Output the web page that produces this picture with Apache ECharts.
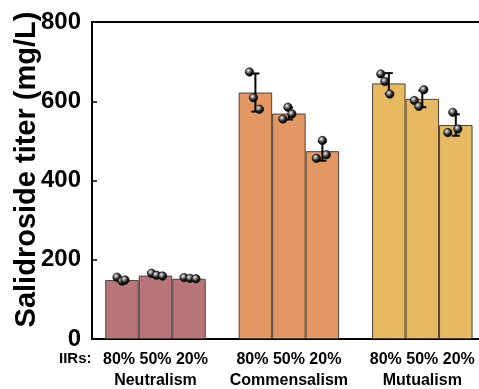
<!DOCTYPE html>
<html>
<head>
<meta charset="utf-8">
<script src="https://cdn.jsdelivr.net/npm/echarts@6/dist/echarts.min.js"></script>
<style>
  html, body { margin: 0; padding: 0; background: #fff; }
  #chart { width: 479px; height: 389px; }
</style>
</head>
<body>
<div id="chart"></div>
<script>
// Interaction groups and IIR levels
const categories = ['Neutralism', 'Commensalism', 'Mutualism'];
const iirLevels = ['80%', '50%', '20%'];

// Mean salidroside titer (mg/L) per group, one array per IIR level
const titer80 = [149, 622, 645];
const titer50 = [160, 569, 606];
const titer20 = [152, 474, 540];

// Standard deviations
const sd80 = [5, 48, 26];
const sd50 = [3, 15, 21];
const sd20 = [2, 24, 27];

// Individual replicate measurements
const reps80 = [[156, 146, 149], [674, 609, 580], [669, 650, 618]];
const reps50 = [[166, 161, 159], [585, 555, 568], [629, 602, 587]];
const reps20 = [[155, 153, 152], [501, 456, 465], [572, 521, 530]];

// Y axis ticks
const yTicks = [0, 200, 400, 600, 800];

// ---- styling ----
const FONT = "'Liberation Sans', Arial, Helvetica, sans-serif";
const groupColors = ['#b97579', '#e39763', '#e7ba62'];
const BAR_W = 33.5;
// horizontal jitter (px) of the replicate dots, per group / level / replicate
const DOT_SHIFT = [
  [[-5, 0, 3], [-4, 1, 7], [-5, 1, 7]],
  [[-6, -2, 4], [-1, -6, 3], [0, -6, 4]],
  [[-8, -4, 1], [1.5, -8, -3.5], [-3, -8, 2]]
];

const levelMeans = [titer80, titer50, titer20];
const levelSd = [sd80, sd50, sd20];
const levelReps = [reps80, reps50, reps20];

// rows for the error bar / replicate overlay: [group, level, mean, sd, r1, r2, r3]
const overlayRows = [];
for (let l = 0; l < iirLevels.length; l++) {
  for (let c = 0; c < categories.length; c++) {
    overlayRows.push([c, l, levelMeans[l][c], levelSd[l][c]].concat(levelReps[l][c]));
  }
}

const dotFill = {
  type: 'radial', x: 0.38, y: 0.35, r: 0.7,
  colorStops: [
    { offset: 0, color: '#ffffff' },
    { offset: 0.22, color: '#9a9a9a' },
    { offset: 0.6, color: '#1a1a1a' },
    { offset: 1, color: '#000000' }
  ]
};

function renderOverlay(params, api) {
  const c = api.value(0), l = api.value(1);
  const mean = api.value(2), sd = api.value(3);
  const cx = api.coord([c, 0])[0] + (l - 1) * BAR_W;
  const yTop = api.coord([c, mean + sd])[1];
  const yBot = api.coord([c, mean - sd])[1];
  const cap = 4;
  const lineStyle = { stroke: '#000', lineWidth: 2 };
  const children = [
    { type: 'line', shape: { x1: cx, y1: yTop, x2: cx, y2: yBot }, style: lineStyle },
    { type: 'line', shape: { x1: cx - cap, y1: yTop, x2: cx + cap, y2: yTop }, style: lineStyle },
    { type: 'line', shape: { x1: cx - cap, y1: yBot, x2: cx + cap, y2: yBot }, style: lineStyle }
  ];
  for (let k = 0; k < 3; k++) {
    const y = api.coord([c, api.value(4 + k)])[1];
    children.push({
      type: 'circle',
      shape: { cx: cx + DOT_SHIFT[c][l][k], cy: y, r: 4.2 },
      style: { fill: dotFill, stroke: '#000', lineWidth: 0.6 }
    });
  }
  return { type: 'group', children: children };
}

function barSeries(l) {
  return {
    type: 'bar',
    name: iirLevels[l],
    xAxisIndex: 0,
    yAxisIndex: 0,
    barWidth: BAR_W,
    barGap: '0%',
    data: levelMeans[l].map((v, c) => ({
      value: v,
      itemStyle: { color: groupColors[c], borderColor: '#4f403a', borderWidth: 1 }
    })),
    silent: true,
    z: 2
  };
}

const chart = echarts.init(document.getElementById('chart'), null, { renderer: 'canvas' });

chart.setOption({
  animation: false,
  backgroundColor: '#fff',
  textStyle: { fontFamily: FONT },
  grid: [
    // bars
    { left: 88.8, top: 22, bottom: 50, width: 400.2, containLabel: false, outerBoundsMode: 'none' },
    // frame and value axis
    { left: 92, top: 22, bottom: 50, right: -40, containLabel: false, outerBoundsMode: 'none' }
  ],
  xAxis: [
    {
      type: 'category',
      gridIndex: 0,
      data: categories,
      axisLine: { show: false },
      axisTick: { show: false },
      axisLabel: {
        margin: 10,
        interval: 0,
        formatter: (name) => '{p|' + iirLevels.join(' ') + '}\n{g|' + name + '}',
        rich: {
          p: { fontFamily: FONT, fontWeight: 'bold', fontSize: 16, lineHeight: 21, color: '#000' },
          g: { fontFamily: FONT, fontWeight: 'bold', fontSize: 16, lineHeight: 21, color: '#000' }
        }
      }
    },
    {
      type: 'value',
      gridIndex: 1,
      position: 'bottom',
      min: 0, max: 1,
      axisLine: { show: true, lineStyle: { color: '#000', width: 2 } },
      axisTick: { show: false },
      axisLabel: { show: false },
      splitLine: { show: false }
    },
    {
      type: 'value',
      gridIndex: 1,
      position: 'top',
      min: 0, max: 1,
      axisLine: { show: true, lineStyle: { color: '#000', width: 2 } },
      axisTick: { show: false },
      axisLabel: { show: false },
      splitLine: { show: false }
    }
  ],
  yAxis: [
    {
      type: 'value',
      gridIndex: 0,
      min: yTicks[0], max: yTicks[yTicks.length - 1], interval: 200,
      show: false
    },
    {
      type: 'value',
      gridIndex: 1,
      min: yTicks[0], max: yTicks[yTicks.length - 1], interval: 200,
      name: 'Salidroside titer (mg/L)',
      nameLocation: 'middle',
      nameGap: 51,
      nameMoveOverlap: false,
      nameTextStyle: {
        fontFamily: FONT, fontWeight: 'bold', fontSize: 29, color: '#000',
        padding: [0, 0, 0, 22]
      },
      axisLine: { show: true, lineStyle: { color: '#000', width: 2 } },
      axisTick: { show: true, inside: true, length: 5, lineStyle: { color: '#000', width: 1.5 } },
      axisLabel: { margin: 11, fontFamily: FONT, fontWeight: 'bold', fontSize: 24, color: '#000' },
      splitLine: { show: false }
    }
  ],
  graphic: [
    {
      type: 'text',
      left: 59,
      top: 351,
      style: { text: 'IIRs:', font: 'bold 15px ' + FONT, fill: '#000' }
    }
  ],
  series: [
    barSeries(0),
    barSeries(1),
    barSeries(2),
    {
      type: 'custom',
      xAxisIndex: 0,
      yAxisIndex: 0,
      renderItem: renderOverlay,
      data: overlayRows,
      encode: { x: 0, y: 2 },
      silent: true,
      z: 5
    }
  ]
});
</script>
</body>
</html>
